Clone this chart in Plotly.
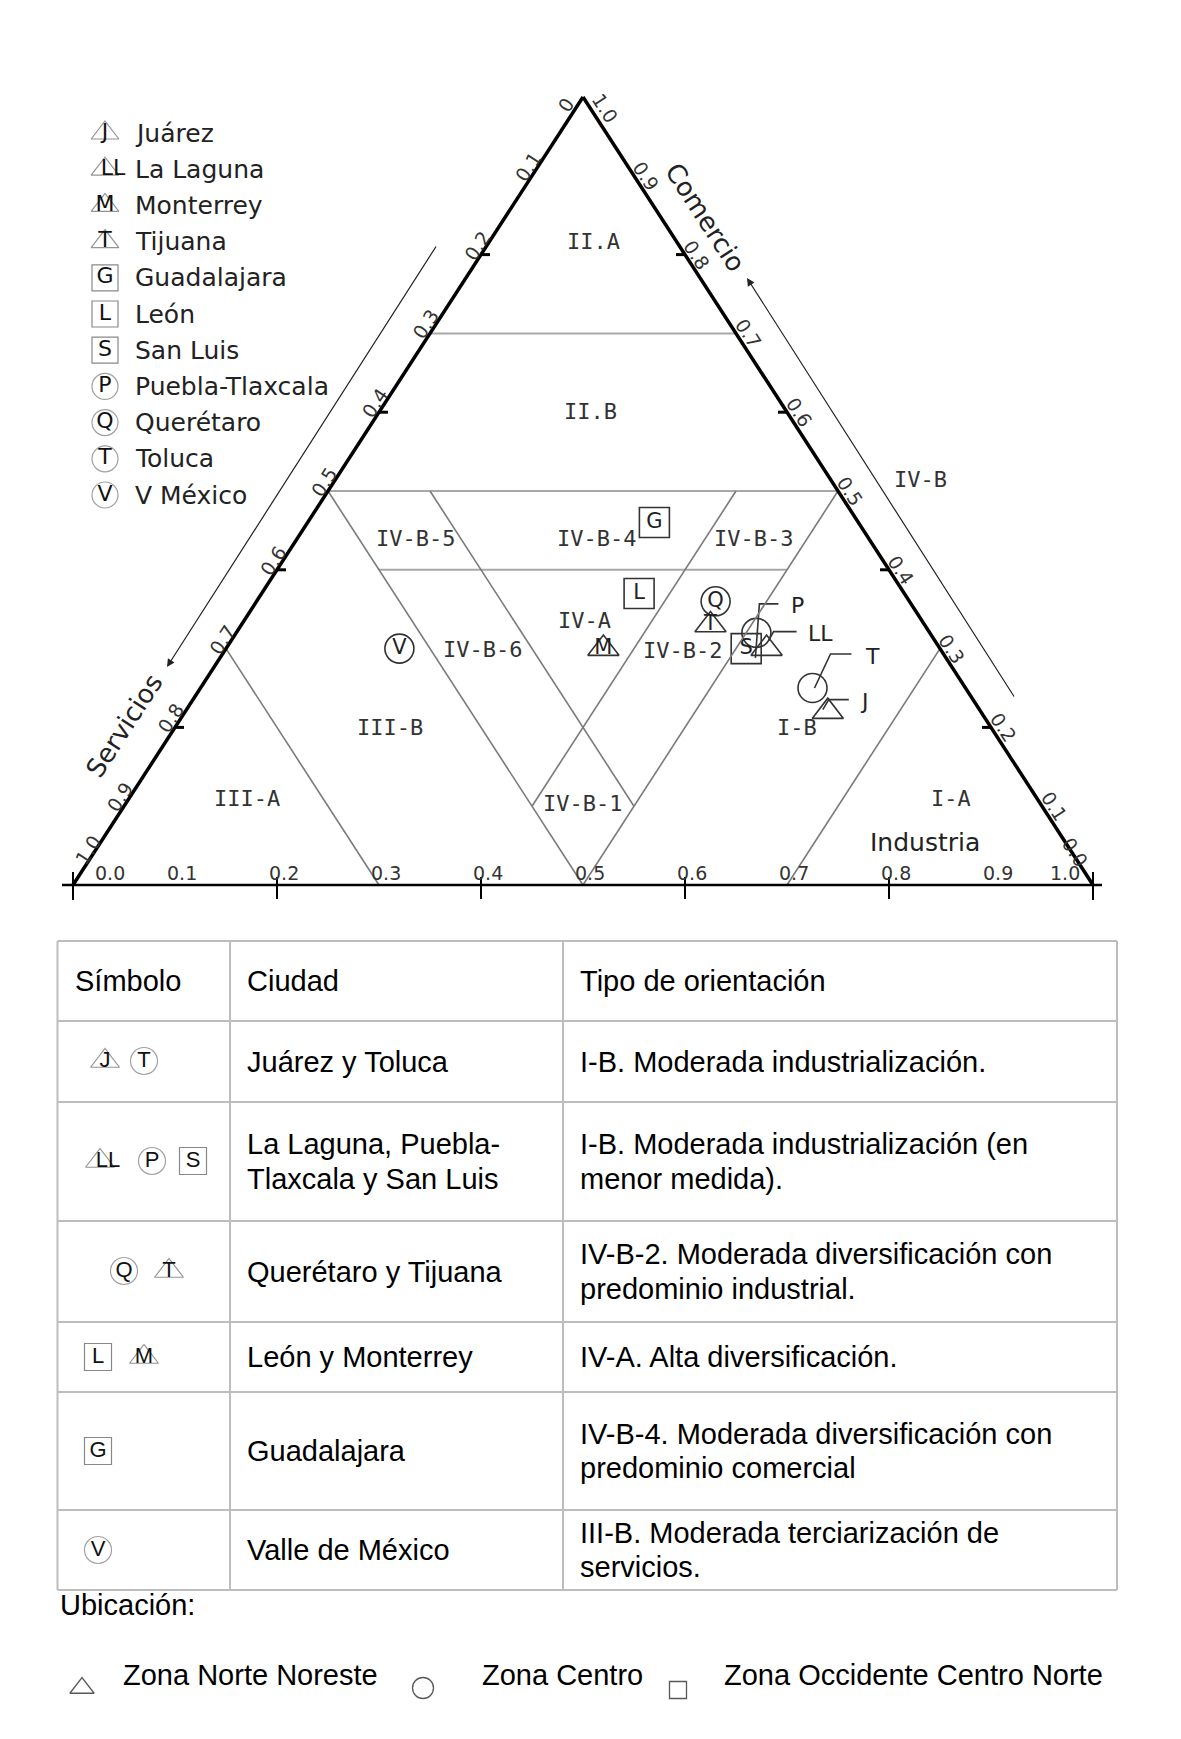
import plotly.graph_objects as go

# ---------------- data ----------------
cities = ["Juárez", "La Laguna", "Monterrey", "Tijuana", "Guadalajara", "León",
          "San Luis", "Puebla-Tlaxcala", "Querétaro", "Toluca", "V México"]
codes = ["J", "LL", "M", "T", "G", "L", "S", "P", "Q", "T", "V"]
zones = ["Norte Noreste", "Norte Noreste", "Norte Noreste", "Norte Noreste",
         "Occidente Centro Norte", "Occidente Centro Norte", "Occidente Centro Norte",
         "Centro", "Centro", "Centro", "Centro"]
industria = [0.63, 0.53, 0.37, 0.46, 0.34, 0.37, 0.51, 0.51, 0.45, 0.60, 0.17]
comercio = [0.22, 0.30, 0.30, 0.33, 0.46, 0.37, 0.30, 0.32, 0.36, 0.25, 0.30]
servicios = [0.15, 0.17, 0.33, 0.21, 0.20, 0.26, 0.19, 0.17, 0.19, 0.15, 0.53]
inner_label = ["", "", "M", "T", "G", "L", "S", "", "Q", "", "V"]
leader_label = ["J", "LL", "", "", "", "", "", "P", "", "T", ""]

tick_values = [0.0, 0.1, 0.2, 0.3, 0.4, 0.5, 0.6, 0.7, 0.8, 0.9, 1.0]
bottom_tick_labels = ["0.0", "0.1", "0.2", "0.3", "0.4", "0.5", "0.6", "0.7", "0.8", "0.9", "1.0"]
left_tick_labels = ["0", "0.1", "0.2", "0.3", "0.4", "0.5", "0.6", "0.7", "0.8", "0.9", "1.0"]
right_tick_labels = ["0.0", "0.1", "0.2", "0.3", "0.4", "0.5", "0.6", "0.7", "0.8", "0.9", "1.0"]

# region boundaries as (Industria, Comercio, Servicios) end points
boundaries_h = [((0.0, 0.7, 0.3), (0.3, 0.7, 0.0)),
                ((0.0, 0.5, 0.5), (0.5, 0.5, 0.0)),
                ((0.1, 0.4, 0.5), (0.5, 0.4, 0.1))]
boundaries_d = [((0.0, 0.3, 0.7), (0.3, 0.0, 0.7)),
                ((0.7, 0.3, 0.0), (0.7, 0.0, 0.3)),
                ((0.0, 0.5, 0.5), (0.5, 0.0, 0.5)),
                ((0.5, 0.5, 0.0), (0.5, 0.0, 0.5)),
                ((0.1, 0.5, 0.4), (0.5, 0.1, 0.4)),
                ((0.4, 0.5, 0.1), (0.4, 0.1, 0.5))]
region_names = ["II.A", "II.B", "IV-B", "IV-B-5", "IV-B-4", "IV-B-3", "IV-A", "IV-B-6",
                "IV-B-2", "III-B", "I-B", "III-A", "IV-B-1", "I-A"]

table_header = ["Símbolo", "Ciudad", "Tipo de orientación"]
table_cities = ["Juárez y Toluca", "La Laguna, Puebla-<br>Tlaxcala y San Luis",
                "Querétaro y Tijuana", "León y Monterrey", "Guadalajara", "Valle de México"]
table_types = ["I-B. Moderada industrialización.",
               "I-B. Moderada industrialización (en<br>menor medida).",
               "IV-B-2. Moderada diversificación con<br>predominio industrial.",
               "IV-A. Alta diversificación.",
               "IV-B-4. Moderada diversificación con<br>predominio comercial",
               "III-B. Moderada terciarización de<br>servicios."]
table_members = [[0, 9], [1, 7, 6], [8, 3], [5, 2], [4], [10]]
zone_names = ["Zona Norte Noreste", "Zona Centro", "Zona Occidente Centro Norte"]
zone_keys = ["Norte Noreste", "Centro", "Occidente Centro Norte"]

# ---------------- geometry helpers ----------------
BX0, BX1, BY, TY = 73.0, 1093.0, 885.0, 97.0
SX, SY = BX1 - BX0, BY - TY
W, H = 1181, 1739


def tern(i, c, s):
    t = i + c + s
    return (i + c / 2.0) / t, c / t


def P(px, py):
    return (px - BX0) / SX, (BY - py) / SY


def shift(pt, dx, dy):
    return pt[0] + dx / SX, pt[1] - dy / SY


zone_symbol = {"Norte Noreste": "triangle-up-open", "Centro": "circle-open",
               "Occidente Centro Norte": "square-open"}
zone_size = {"Norte Noreste": 27, "Centro": 29, "Occidente Centro Norte": 30}
small_size = {"Norte Noreste": 24, "Centro": 26, "Occidente Centro Norte": 26}
zone_col = {"Norte Noreste": "#666", "Centro": "#777", "Occidente Centro Norte": "#555"}

fig = go.Figure()
shapes = []
anns = []


def line(p1, p2, color="#000", width=1.0):
    shapes.append(dict(type="line", xref="x", yref="y", x0=p1[0], y0=p1[1],
                       x1=p2[0], y1=p2[1], line=dict(color=color, width=width)))


def ann(pt, text, size=20, family="DejaVu Sans", color="#222", xanchor="center",
        angle=0, yanchor="middle"):
    anns.append(dict(x=pt[0], y=pt[1], xref="x", yref="y", text=text, showarrow=False,
                     xanchor=xanchor, yanchor=yanchor, textangle=angle,
                     font=dict(size=size, family=family, color=color)))


# ---------------- region boundaries ----------------
for a, b in boundaries_h:
    line(tern(*a), tern(*b), "#a8a8a8", 2)
for a, b in boundaries_d:
    line(tern(*a), tern(*b), "#7a7a7a", 1.6)

apex = tern(0, 1, 0)
bl = tern(0, 0, 1)
br = tern(1, 0, 0)
line(apex, bl, "#000", 3.5)
line(apex, br, "#000", 3.5)
line(P(62, BY), P(1102, BY), "#000", 2.5)

# corner crosses and bottom ticks
for pt in (bl, br):
    line(shift(pt, 0, -13), shift(pt, 0, 15), "#000", 2)
for v in [0.2, 0.4, 0.6, 0.8]:
    b = tern(v, 0, 1 - v)
    line(shift(b, 0, -8), shift(b, 0, 14), "#000", 2)
    lp = tern(0, v, 1 - v)
    line(lp, shift(lp, 9, 0), "#000", 3)
    rp = tern(1 - v, v, 0)
    line(rp, shift(rp, -9, 0), "#000", 3)

# tick labels
for k, v in enumerate(tick_values):
    b = tern(v, 0, 1 - v)
    dx = 7
    if k == 0:
        dx = 37
    elif k == 10:
        dx = -28
    ann(shift(b, dx, -12), bottom_tick_labels[k], 19, color="#333")
    lp = tern(0, 1 - v, v)
    off = (-4, -9)
    if k == 0:
        off = (-17, 8)
    elif k == 10:
        off = (15, -35)
    ann(shift(lp, *off), left_tick_labels[k], 19, color="#333", angle=-57)
    rp = tern(1 - v, v, 0)
    off = (12, 0)
    if k == 10:
        off = (22, 11)
    elif k == 0:
        off = (-18, -33)
    ann(shift(rp, *off), right_tick_labels[k], 19, color="#333", angle=57)

# axis titles and arrows
ann(P(124, 726), "Servicios", 26, angle=-57)
ann(P(705, 217), "Comercio", 26, angle=57)
ann(P(925, 842), "Industria", 25)
for head, tail in [(P(167, 667), P(437, 245)), (P(747, 278), P(1015, 698))]:
    anns.append(dict(x=head[0], y=head[1], ax=tail[0], ay=tail[1], xref="x", yref="y",
                     axref="x", ayref="y", text="", showarrow=True, arrowhead=2,
                     arrowsize=1.3, arrowwidth=1.2, arrowcolor="#222"))

# region labels
region_px = [(593, 241), (590, 411), (920, 479), (415, 538), (596, 538), (753, 538),
             (584, 620), (482, 649), (682, 650), (390, 727), (797, 727), (247, 798),
             (582, 803), (951, 798)]
for name, (px, py) in zip(region_names, region_px):
    ann(P(px, py), name, 22, family="DejaVu Sans Mono", color="#333")

# ---------------- data points ----------------
pts = [tern(i, c, s) for i, c, s in zip(industria, comercio, servicios)]
for z in zone_keys:
    idx = [k for k in range(len(cities)) if zones[k] == z]
    fig.add_trace(go.Scatter(
        x=[pts[k][0] for k in idx], y=[pts[k][1] for k in idx], mode="markers",
        marker=dict(symbol=zone_symbol[z], size=zone_size[z], color="#333",
                    line=dict(width=1.6, color="#333")),
        text=[cities[k] for k in idx], hoverinfo="text", cliponaxis=False, showlegend=False))
fig.add_trace(go.Scatter(
    x=[p[0] for p in pts], y=[p[1] for p in pts], mode="text", text=inner_label,
    textposition="middle center", textfont=dict(size=21, family="DejaVu Sans", color="#222"),
    hoverinfo="skip", cliponaxis=False, showlegend=False))

# leader lines: (start dx,dy), (bend dx,dy), end dx, label dx
leader_geom = {"Puebla-Tlaxcala": ((-1, 25), (3, -29), 22, 33),
               "La Laguna": ((2, -8), (7, -17), 30, 39),
               "Toluca": ((2, 0), (18, -34), 39, 50),
               "Juárez": ((-5, -2), (1, -12), 21, 30)}
for k, name in enumerate(cities):
    if not leader_label[k]:
        continue
    (sx, sy), (bx, by), ex, lx = leader_geom[name]
    p0 = shift(pts[k], sx, sy)
    p1 = shift(pts[k], bx, by)
    p2 = shift(pts[k], ex, by)
    fig.add_trace(go.Scatter(x=[p0[0], p1[0], p2[0]], y=[p0[1], p1[1], p2[1]], mode="lines",
                             line=dict(color="#333", width=1.6), hoverinfo="skip",
                             cliponaxis=False, showlegend=False))
    ann(shift(pts[k], lx, by + 2), leader_label[k], 22, xanchor="left")

# ---------------- top-left legend ----------------
leg_x, leg_y0, leg_dy = 105, 133, 36.2
lx_, ly_ = [], []
for k, name in enumerate(cities):
    py = leg_y0 + k * leg_dy
    p = P(leg_x, py)
    lx_.append(p[0]); ly_.append(p[1])
    ann(P(133, py), name, 25, xanchor="left", color="#222")
fig.add_trace(go.Scatter(
    x=lx_, y=ly_, mode="markers",
    marker=dict(symbol=[zone_symbol[z] for z in zones], size=[small_size[z] for z in zones],
                color=[zone_col[z] for z in zones], line=dict(width=1.2)),
    hoverinfo="skip", cliponaxis=False, showlegend=False))
ltx = [shift((x, y), 8 if c == "LL" else 0, 0)[0] for x, y, c in zip(lx_, ly_, codes)]
fig.add_trace(go.Scatter(
    x=ltx, y=ly_, mode="text", text=codes, textposition="middle center",
    textfont=dict(size=22, family="DejaVu Sans", color="#111"),
    hoverinfo="skip", cliponaxis=False, showlegend=False))

# ---------------- table ----------------
col_x = [57.5, 230, 563, 1117]
row_y = [941, 1021, 1102, 1221, 1322, 1392, 1510, 1590]
for x in col_x:
    line(P(x, row_y[0]), P(x, row_y[-1]), "#bdbdbd", 2)
for y in row_y:
    line(P(col_x[0], y), P(col_x[-1], y), "#bdbdbd", 2)
text_x = [73, 245, 578]
TF = "Liberation Sans, Arial"


def cell_text(x, yc, text):
    parts = text.split("<br>")
    n = len(parts)
    for j, t in enumerate(parts):
        y = yc + (j - (n - 1) / 2.0) * 34.5
        ann(P(x, y), t, 29, family=TF, color="#000", xanchor="left")


for j, h in enumerate(table_header):
    cell_text(text_x[j], (row_y[0] + row_y[1]) / 2.0, h)
sym_px = [[(105, 1061), (144, 1061)], [(100, 1161), (152, 1161), (193, 1161)],
          [(124, 1271), (169, 1271)], [(98, 1357), (144, 1357)], [(98, 1451)], [(98, 1550)]]
tx, ty, tsym, tsz, tcol, ttext, ttx = [], [], [], [], [], [], []
for r in range(len(table_cities)):
    yc = (row_y[r + 1] + row_y[r + 2]) / 2.0
    cell_text(text_x[1], yc, table_cities[r])
    cell_text(text_x[2], yc, table_types[r])
    for k, (px, py) in zip(table_members[r], sym_px[r]):
        p = P(px, py)
        tx.append(p[0]); ty.append(p[1])
        tsym.append(zone_symbol[zones[k]]); tsz.append(small_size[zones[k]] + 1)
        tcol.append(zone_col[zones[k]]); ttext.append(codes[k])
        ttx.append(shift(p, 8 if codes[k] == "LL" else 0, 0)[0])
fig.add_trace(go.Scatter(x=tx, y=ty, mode="markers",
                         marker=dict(symbol=tsym, size=tsz, color=tcol, line=dict(width=1.2)),
                         hoverinfo="skip", cliponaxis=False, showlegend=False))
fig.add_trace(go.Scatter(x=ttx, y=ty, mode="text", text=ttext, textposition="middle center",
                         textfont=dict(size=22, family="Liberation Sans, Arial", color="#111"),
                         hoverinfo="skip", cliponaxis=False, showlegend=False))

# ---------------- zone legend ----------------
ann(P(58, 1605), "Ubicación:", 29, family=TF, color="#000", xanchor="left")
zone_sym_px = [(82, 1688), (423, 1688), (678, 1690)]
zone_txt_px = [121, 480, 722]
zone_sym_size = {"Norte Noreste": 21, "Centro": 21, "Occidente Centro Norte": 17}
zx, zy = [], []
for (px, py) in zone_sym_px:
    p = P(px, py)
    zx.append(p[0]); zy.append(p[1])
fig.add_trace(go.Scatter(x=zx, y=zy, mode="markers",
                         marker=dict(symbol=[zone_symbol[z] for z in zone_keys],
                                     size=[zone_sym_size[z] for z in zone_keys],
                                     color="#111", line=dict(width=1.3)),
                         hoverinfo="skip", cliponaxis=False, showlegend=False))
for name, px in zip(zone_names, zone_txt_px):
    ann(P(px, 1675), name, 29, family=TF, color="#000", xanchor="left")

# ---------------- layout ----------------
x0, _ = P(0, 0)
x1, _ = P(W, 0)
_, y1 = P(0, 0)
_, y0 = P(0, H)
fig.update_layout(
    width=W, height=H, margin=dict(l=0, r=0, t=0, b=0),
    paper_bgcolor="white", plot_bgcolor="white", showlegend=False,
    xaxis=dict(range=[x0, x1], visible=False, fixedrange=True),
    yaxis=dict(range=[y0, y1], visible=False, fixedrange=True),
    shapes=shapes, annotations=anns,
)
fig.write_html("out.html", config={"displayModeBar": False},
               post_script="document.body.style.margin='0px';document.body.style.padding='0px';")
